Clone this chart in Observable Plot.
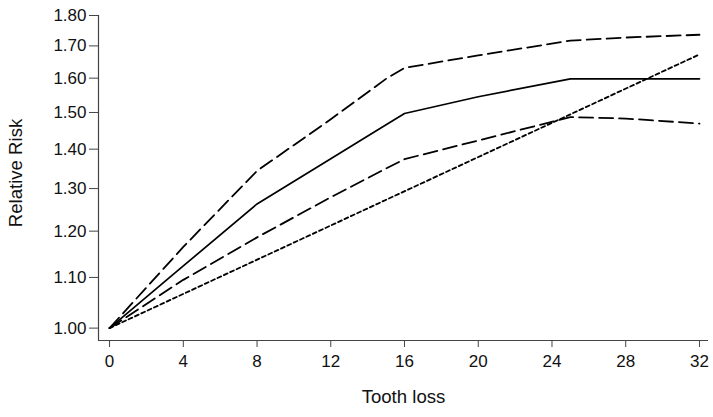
<!DOCTYPE html>
<html>
<head>
<meta charset="utf-8">
<script src="https://cdn.jsdelivr.net/npm/d3@7"></script>
<script src="https://cdn.jsdelivr.net/npm/@observablehq/plot@0.6"></script>
<style>
  html, body { margin: 0; padding: 0; background: #fff; }
</style>
</head>
<body>
<div id="chart"></div>
<script>
// Tooth loss (x) values at which curves are read
const toothLoss = [0, 4, 8, 12, 15, 16, 20, 25, 28, 32];
// Estimated relative risk (solid)
const rrEstimate = [1.00, 1.124, 1.263, 1.375, 1.466, 1.497, 1.545, 1.598, 1.598, 1.598];
// Upper confidence limit (long dash)
const rrUpper = [1.00, 1.165, 1.344, 1.481, 1.598, 1.631, 1.670, 1.717, 1.727, 1.736];
// Lower confidence limit (long dash)
const rrLower = [1.00, 1.095, 1.186, 1.279, 1.350, 1.374, 1.423, 1.487, 1.483, 1.469];
// Linear trend (short dash)
const linearX = [0, 32];
const linearRR = [1.00, 1.673];

const xTicks = [0, 4, 8, 12, 16, 20, 24, 28, 32];
const yTicks = [1.0, 1.1, 1.2, 1.3, 1.4, 1.5, 1.6, 1.7, 1.8];

const xLabel = "Tooth loss";
const yLabel = "Relative Risk";

const curve = (ys) => toothLoss.map((x, i) => ({x, y: ys[i]}));
const linear = linearX.map((x, i) => ({x, y: linearRR[i]}));

const font = "Liberation Sans, Arial, sans-serif";
const fs = 17;

const chart = Plot.plot({
  width: 713,
  height: 417,
  marginLeft: 98,
  marginRight: 5,
  marginTop: 15,
  marginBottom: 77,
  style: {fontFamily: font, fontSize: fs + "px", color: "#111", background: "#fff", overflow: "visible"},
  x: {domain: [-0.6, 32.49]},
  y: {type: "log", domain: [0.977, 1.8]},
  marks: [
    Plot.ruleX([-0.6], {stroke: "#444", strokeWidth: 1.2}),
    Plot.ruleY([0.977], {stroke: "#444", strokeWidth: 1.2}),
    Plot.axisX(xTicks, {tickSize: 7, tickPadding: 7, fontSize: fs, label: null, stroke: "#444", fill: "#111"}),
    Plot.axisY(yTicks, {tickSize: 9, tickPadding: 3, fontSize: fs, label: null, tickFormat: d => d.toFixed(2), stroke: "#444", fill: "#111"}),
    Plot.line(linear, {x: "x", y: "y", stroke: "#000", strokeWidth: 1.8, strokeDasharray: "4,3"}),
    Plot.line(curve(rrLower), {x: "x", y: "y", stroke: "#000", strokeWidth: 1.8, strokeDasharray: "14,6"}),
    Plot.line(curve(rrUpper), {x: "x", y: "y", stroke: "#000", strokeWidth: 1.8, strokeDasharray: "14,6"}),
    Plot.line(curve(rrEstimate), {x: "x", y: "y", stroke: "#000", strokeWidth: 1.7}),
    Plot.text([xLabel], {frameAnchor: "bottom", lineAnchor: "middle", dy: 57, fontSize: 18.6, fill: "#111"}),
    Plot.text([yLabel], {frameAnchor: "left", textAnchor: "middle", lineAnchor: "middle", dx: -82, dy: -5, rotate: -90, fontSize: 18.6, fill: "#111"})
  ]
});
document.getElementById("chart").appendChild(chart);
</script>
</body>
</html>
